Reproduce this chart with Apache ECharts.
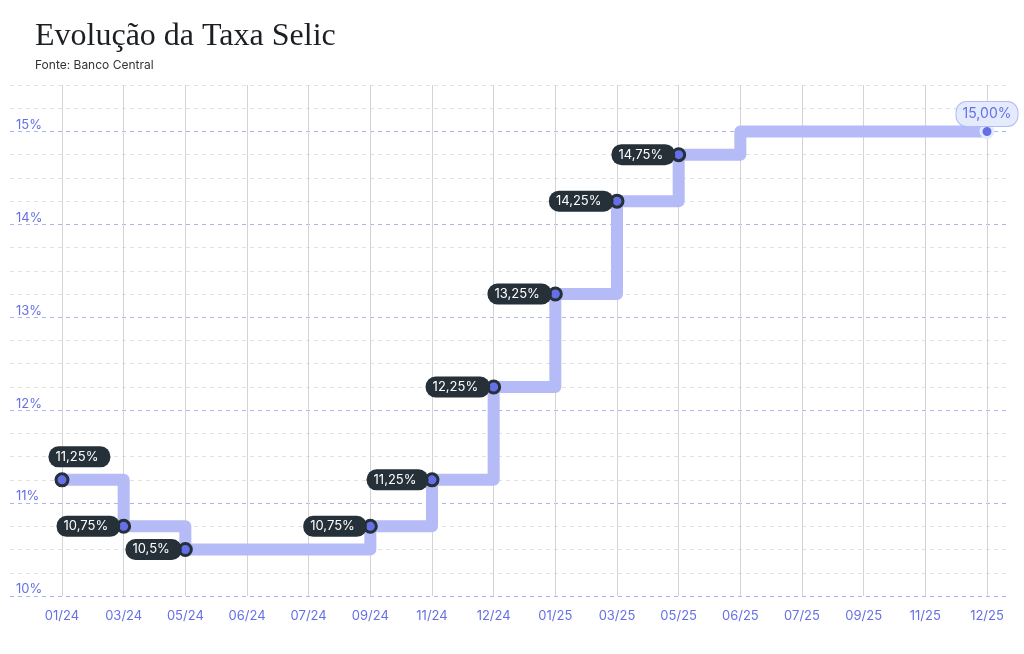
<!DOCTYPE html>
<html>
<head>
<meta charset="utf-8">
<script src="https://cdn.jsdelivr.net/npm/echarts@6/dist/echarts.min.js"></script>
<style>html,body{margin:0;padding:0;background:#fff}#chart{width:1024px;height:654px}</style>
</head>
<body>
<div id="chart"></div>
<script>
// categorias (mês/ano) e valores da Selic
var meses = ['01/24', '03/24', '05/24', '06/24', '07/24', '09/24', '11/24', '12/24',
    '01/25', '03/25', '05/25', '06/25', '07/25', '09/25', '11/25', '12/25'];
var selic = [11.25, 10.75, 10.5, 10.5, 10.5, 10.75, 11.25, 12.25,
    13.25, 14.25, 14.75, 15, 15, 15, 15, 15];
var rotulos = ['11,25%', '10,75%', '10,5%', '', '', '10,75%', '11,25%', '12,25%',
    '13,25%', '14,25%', '14,75%', '', '', '', '', '15,00%'];

var escuro = '#263038';
var azul = '#6570e6';
var dados = selic.map(function (v, i) {
    var item = {value: v};
    var txt = rotulos[i];
    if (!txt) {
        item.symbolSize = 0;
        item.label = {show: false};
    } else if (i === 0) {
        item.label = {show: true, position: [-6, -26], formatter: txt};
    } else if (i === selic.length - 1) {
        item.itemStyle = {borderColor: '#e4ebfd'};
        item.label = {
            show: true, position: 'top', distance: -2, formatter: txt,
            backgroundColor: '#e4ebfd', borderColor: '#b4bbf7', borderWidth: 1,
            color: azul, fontSize: 14, padding: [5, 6]
        };
    } else {
        item.label = {show: true, formatter: txt};
    }
    return item;
});

echarts.init(document.getElementById('chart')).setOption({
    animation: false,
    title: {
        text: 'Evolução da Taxa Selic',
        subtext: 'Fonte: Banco Central',
        left: 30, top: 16,
        itemGap: 6,
        textStyle: {fontFamily: 'Liberation Serif', fontSize: 32, fontWeight: 'normal', color: '#1b1f24'},
        subtextStyle: {fontFamily: 'Inter', fontSize: 12, color: '#333'}
    },
    grid: [
        {left: 10, right: 14, top: 85, bottom: 58},
        {left: 62, right: 37, top: 85, bottom: 58}
    ],
    xAxis: [
        {gridIndex: 0, type: 'category', data: meses, show: false},
        {
            gridIndex: 1, type: 'category', data: meses, boundaryGap: false,
            axisLine: {show: false}, axisTick: {show: false},
            axisLabel: {color: azul, fontFamily: 'Inter', fontSize: 13, margin: 14},
            splitLine: {show: true, lineStyle: {color: '#d4d4d4', width: 1}}
        }
    ],
    yAxis: [
        {
            gridIndex: 0, type: 'value', min: 10, max: 15.5, interval: 0.25,
            axisLine: {show: false}, axisTick: {show: false},
            axisLabel: {
                inside: true, verticalAlign: 'bottom', margin: 6, color: azul,
                fontFamily: 'Inter', fontSize: 13,
                formatter: function (v) { return v % 1 === 0 ? v + '%' : ''; }
            },
            splitLine: {show: true, lineStyle: {type: [4, 4], color: ['#aeb3f3', '#e2e2e2', '#e2e2e2', '#e2e2e2']}}
        },
        {gridIndex: 1, type: 'value', min: 10, max: 15.5, show: false}
    ],
    series: [{
        type: 'line',
        xAxisIndex: 1, yAxisIndex: 1,
        step: 'end',
        data: dados,
        symbol: 'circle',
        symbolSize: 12,
        lineStyle: {color: '#b4bbf7', width: 12, join: 'round'},
        itemStyle: {color: azul, borderColor: escuro, borderWidth: 3},
        label: {
            show: true, position: 'left', distance: -4,
            backgroundColor: escuro, color: '#fff', fontFamily: 'Inter', fontSize: 13,
            padding: [4, 12, 4, 7], borderRadius: 10
        },
        z: 5
    }]
});
</script>
</body>
</html>
